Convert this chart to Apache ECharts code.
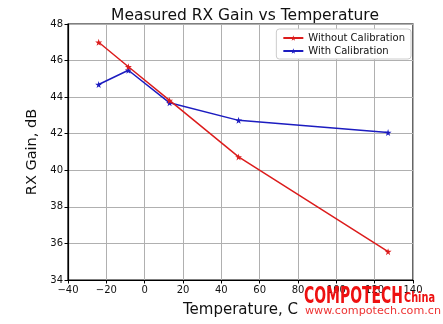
<!DOCTYPE html>
<html>
<head>
<meta charset="utf-8">
<script src="https://cdn.jsdelivr.net/npm/echarts@6/dist/echarts.min.js"></script>
<style>html,body{margin:0;padding:0;background:#fff}#c{width:443px;height:324px}</style>
</head>
<body>
<div id="c"></div>
<script>
var temperatures = [-24, -8.5, 13, 49, 127];
var withoutCalibration = [47.0, 45.66, 43.82, 40.73, 35.55];
var withCalibration = [44.69, 45.47, 43.69, 42.73, 42.06];
var seriesNames = ['Without Calibration', 'With Calibration'];
var xTicks = { min: -40, max: 140, interval: 20 };
var yTicks = { min: 34, max: 48, interval: 2 };

var star = 'path://M50,0 L61,35 L98,35 L68,57 L79,91 L50,70 L21,91 L32,57 L2,35 L39,35 Z';
var font = 'DejaVu Sans';
function pairs(xs, ys){ return xs.map(function(x,i){ return [x, ys[i]]; }); }
function minus(v){ return String(v).replace('-', '\u2212'); }

var mctx = document.createElement('canvas').getContext('2d');
function fitScale(text, fontStr, target){
  mctx.font = fontStr;
  return target / mctx.measureText(text).width;
}
var wmFontBig = 'bold 23px "DejaVu Sans"';
var wmFontSmall = 'bold 14px "DejaVu Sans"';
var wmFontUrl = '11px "DejaVu Sans"';
var sBig = fitScale('COMPOTECH', wmFontBig, 99);
var sSmall = fitScale('China', wmFontSmall, 31);
var sUrl = fitScale('www.compotech.com.cn', wmFontUrl, 136);

var chart = echarts.init(document.getElementById('c'), null, {renderer:'canvas'});
chart.setOption({
  animation: false,
  backgroundColor: '#fff',
  title: {
    text: 'Measured RX Gain vs Temperature',
    left: 240, top: 3, textAlign: 'center',
    textStyle: { fontFamily: font, fontSize: 15.5, fontWeight: 'normal', color: '#111' }
  },
  legend: {
    orient: 'vertical', right: 32, top: 29,
    itemWidth: 20, itemHeight: 7, itemGap: 3,
    padding: [4, 6, 3, 6],
    backgroundColor: '#fff', borderColor: '#cccccc', borderWidth: 1, borderRadius: 3,
    textStyle: { fontFamily: font, fontSize: 10, color: '#111' },
    data: seriesNames
  },
  grid: { left: 68, right: 30, top: 24, bottom: 44, show: true, borderColor: '#000', borderWidth: 1.2 },
  xAxis: {
    type: 'value', min: xTicks.min, max: xTicks.max, interval: xTicks.interval,
    name: 'Temperature, C', nameLocation: 'middle', nameGap: 23,
    nameTextStyle: { fontFamily: font, fontSize: 15, color: '#111' },
    axisLine: { show: true, onZero: false, lineStyle: { color: '#000', width: 1.2 } },
    axisTick: { show: true, length: 3.5, lineStyle: { color: '#000' } },
    axisLabel: { fontFamily: font, fontSize: 10, color: '#111', margin: 5, formatter: minus },
    splitLine: { show: true, lineStyle: { color: '#b0b0b0', width: 1 } }
  },
  yAxis: {
    type: 'value', min: yTicks.min, max: yTicks.max, interval: yTicks.interval,
    name: 'RX Gain, dB', nameLocation: 'middle', nameGap: 28,
    nameTextStyle: { fontFamily: font, fontSize: 14.5, color: '#111' },
    axisLine: { show: true, onZero: false, lineStyle: { color: '#000', width: 1.2 } },
    axisTick: { show: true, length: 3.5, lineStyle: { color: '#000' } },
    axisLabel: { fontFamily: font, fontSize: 10, color: '#111', margin: 5, formatter: minus },
    splitLine: { show: true, lineStyle: { color: '#b0b0b0', width: 1 } }
  },
  series: [
    {
      name: seriesNames[0], type: 'line', data: pairs(temperatures, withoutCalibration),
      symbol: star, symbolSize: 7, showAllSymbol: true,
      itemStyle: { color: '#dc1c1c' }, lineStyle: { color: '#dc1c1c', width: 1.5 }, z: 3
    },
    {
      name: seriesNames[1], type: 'line', data: pairs(temperatures, withCalibration),
      symbol: star, symbolSize: 7, showAllSymbol: true,
      itemStyle: { color: '#1c1cc0' }, lineStyle: { color: '#1c1cc0', width: 1.5 }, z: 2
    }
  ],
  graphic: [
    { type: 'text', x: 304, y: 286, scaleX: sBig, z: 100,
      style: { text: 'COMPOTECH', font: wmFontBig, fill: '#ee1111' } },
    { type: 'text', x: 404, y: 291, scaleX: sSmall, z: 100,
      style: { text: 'China', font: wmFontSmall, fill: '#ee1111' } },
    { type: 'text', x: 305, y: 306, scaleX: sUrl, z: 100,
      style: { text: 'www.compotech.com.cn', font: wmFontUrl, fill: '#ee3333' } }
  ]
});
</script>
</body>
</html>
